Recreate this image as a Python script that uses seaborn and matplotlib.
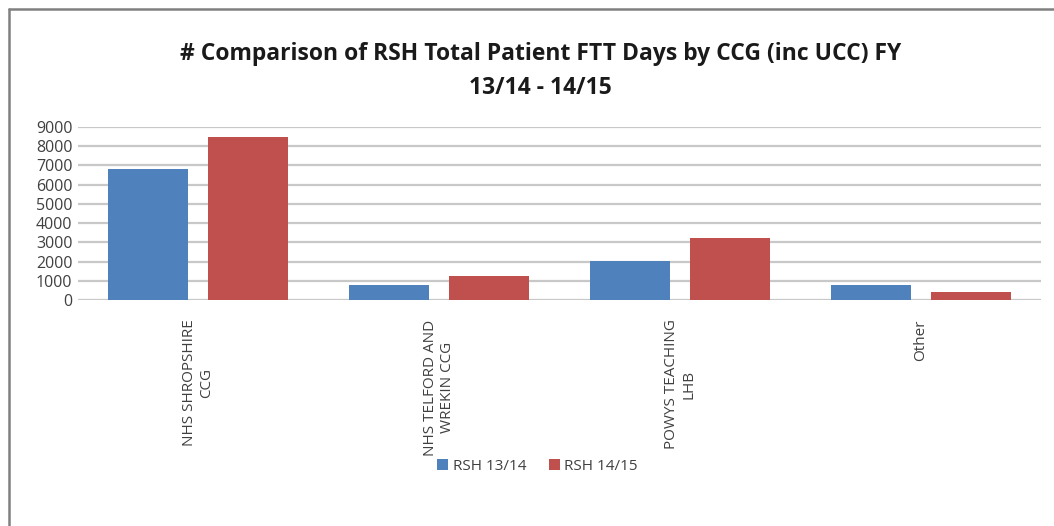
import pandas as pd
import seaborn as sns
import matplotlib.pyplot as plt
from matplotlib.lines import Line2D
from matplotlib.patches import Patch

categories = ['NHS SHROPSHIRE\nCCG', 'NHS TELFORD AND\nWREKIN CCG', 'POWYS TEACHING\nLHB', 'Other']
rsh_1314 = [6830, 780, 2030, 790]
rsh_1415 = [8450, 1260, 3240, 430]
series = ['RSH 13/14', 'RSH 14/15']
y_ticks = [0, 1000, 2000, 3000, 4000, 5000, 6000, 7000, 8000, 9000]

df = pd.DataFrame({
    'category': categories * 2,
    'value': rsh_1314 + rsh_1415,
    'series': [series[0]] * 4 + [series[1]] * 4,
})

sns.set_style('white')
plt.rcParams['font.family'] = ['Open Sans', 'DejaVu Sans']

fig = plt.figure(figsize=(10.54, 5.26), dpi=100)
ax = fig.add_axes([0.074, 0.4297, 0.914, 0.329])

colors = ['#4F81BD', '#C0504D']
sns.barplot(data=df, x='category', y='value', hue='series', palette=colors,
            saturation=1, width=0.83, gap=0.2, linewidth=0,
            ax=ax, legend=False, zorder=3)

ax.set_ylim(0, 9000)
ax.set_yticks(y_ticks)
ax.set_yticklabels([str(t) for t in y_ticks], fontsize=11.5, color='#404040')
ax.yaxis.grid(True, color='#c8c8c8', linewidth=1.6, zorder=0)
ax.set_axisbelow(True)
for s in ax.spines.values():
    s.set_visible(False)
ax.tick_params(axis='both', length=0, pad=4)
ax.set_xlabel('')
ax.set_ylabel('')
ax.set_xticks(range(len(categories)))
ax.set_xticklabels(categories, rotation=90, fontsize=11, color='#404040',
                   ha='center', va='top', multialignment='center')
ax.tick_params(axis='x', pad=14)

fig.text(0.513, 0.865, '# Comparison of RSH Total Patient FTT Days by CCG (inc UCC) FY\n13/14 - 14/15',
         ha='center', va='center', fontsize=16.5, fontweight='bold', color='#1a1a1a',
         linespacing=1.55)

handles = [Patch(facecolor=c, edgecolor='none') for c in colors]
fig.legend(handles, series, loc='center', bbox_to_anchor=(0.51, 0.114), ncol=2,
           frameon=False, fontsize=11, handlelength=0.7, handleheight=0.7,
           handletextpad=0.3, columnspacing=1.5, labelcolor='#404040')

# outer chart frame (top and left edges visible)
fig.add_artist(Line2D([9 / 1054, 9 / 1054], [0, 1 - 9 / 526], transform=fig.transFigure,
                      color='#808080', linewidth=1.8))
fig.add_artist(Line2D([9 / 1054, 1], [1 - 9 / 526, 1 - 9 / 526], transform=fig.transFigure,
                      color='#808080', linewidth=1.8))

fig.savefig('out.png', dpi=100, facecolor='white')
